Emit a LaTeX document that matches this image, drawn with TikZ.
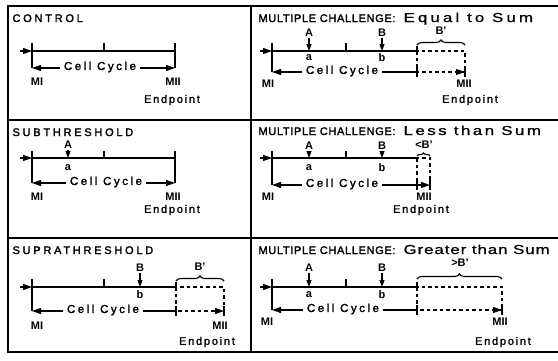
\documentclass[tikz,border=0pt]{standalone}
\usepackage{fontspec}
\setmainfont{Liberation Sans}
\newfontfamily\lttl{Liberation Sans}[LetterSpace=25,FakeBold=2]
\newfontfamily\capt{Liberation Sans}[LetterSpace=6,FakeBold=2]
\newfontfamily\lcA{Liberation Sans}[LetterSpace=24,FakeStretch=1.3,FakeBold=1]
\newfontfamily\lcB{Liberation Sans}[LetterSpace=19,FakeStretch=1.3,FakeBold=1]
\newfontfamily\lcC{Liberation Sans}[LetterSpace=7,FakeStretch=1.3,FakeBold=1]
\newfontfamily\ccf{Liberation Sans}[LetterSpace=22,FakeBold=2]
\newfontfamily\epf{Liberation Sans}[LetterSpace=16,FakeBold=2]
\usetikzlibrary{arrows.meta,decorations.pathreplacing}
\begin{document}
\begin{tikzpicture}[x=1pt,y=-1pt, line width=1.1pt,
  lt/.style={anchor=base west,inner sep=0pt,font=\lttl\fontsize{11}{13}\selectfont},
  rt/.style={anchor=base west,inner sep=0pt,font=\capt\fontsize{11}{13}\selectfont},
  lca/.style={anchor=base west,inner sep=0pt,font=\lcA\fontsize{13}{15}\selectfont},
  lcb/.style={anchor=base west,inner sep=0pt,font=\lcB\fontsize{13}{15}\selectfont},
  lcc/.style={anchor=base west,inner sep=0pt,font=\lcC\fontsize{13}{15}\selectfont},
  cc/.style={inner sep=3pt,font=\ccf\fontsize{11.5}{13}\selectfont},
  mlab/.style={inner sep=0pt,font=\bfseries\fontsize{11}{12}\selectfont},
  ep/.style={inner sep=0pt,font=\epf\fontsize{11}{12}\selectfont},
  ab/.style={inner sep=1pt,font=\bfseries\fontsize{11}{12}\selectfont},
  arw/.style={-{Triangle[length=9pt,width=6pt]}},
  sarw/.style={-{Triangle[length=7pt,width=5pt]}},
  dsh/.style={dash pattern=on 3.5pt off 3pt},
  brc/.style={decorate,decoration={brace,amplitude=5pt}},
]
\useasboundingbox (0,0) rectangle (558,360);
% frame
\draw (558,6) -- (8,6) -- (8,352) -- (558,352);
\draw (251,6) -- (251,352);
\draw (8,120) -- (558,120);
\draw (8,238) -- (558,238);

% ---------- Panel 1: CONTROL
\node[lt] (t1) at (12,22) {CONTROL};
\coordinate (p1in) at (20,51); \coordinate (p1s) at (32,51); \coordinate (p1e) at (175,51);
\draw[arw] (p1in) -- (p1s);
\draw (p1s) -- (p1e);
\draw (104,43) -- (104,51);
\draw (32,43) -- (32,68);
\draw (175,43) -- (175,68);
\node[cc] (p1cc) at (100,67) {Cell Cycle};
\coordinate (p1l) at (32,68); \coordinate (p1r) at (175,68);
\draw[arw] (p1cc.west |- p1l) -- (p1l);
\draw[arw] (p1cc.east |- p1r) -- (p1r);
\node[mlab] (p1mi) at (37,82) {MI};
\node[mlab] (p1mii) at (173,82) {MII};
\node[ep] (p1ep) at (172,100) {Endpoint};

% ---------- Panel 2: Equal to Sum
\node[rt] (t2) at (258,22) {MULTIPLE CHALLENGE:};
\node[lca] (t2b) at (403,22) {Equal to Sum};
\coordinate (p2in) at (260,51); \coordinate (p2s) at (272,51); \coordinate (p2e) at (417,51);
\draw[arw] (p2in) -- (p2s);
\draw (p2s) -- (p2e);
\draw (346,43) -- (346,51);
\draw (272,43) -- (272,72);
\draw (417,46) -- (417,51);
\node[ab] (p2A) at (309,33) {A};
\coordinate (p2At) at (309,51);
\draw[sarw] (p2A) -- (p2At);
\node[ab] (p2a) at (309,58) {a};
\node[ab] (p2B) at (382,33) {B};
\coordinate (p2Bt) at (382,51);
\draw[sarw] (p2B) -- (p2Bt);
\node[ab] (p2b) at (382,58) {b};
\draw[dsh] (417,51) rectangle (465,72);
\draw (417,67) -- (417,77);
\node[cc] (p2cc) at (342,71) {Cell Cycle};
\coordinate (p2l) at (272,72); \coordinate (p2m) at (417,72);
\coordinate (p2ea) at (455,72); \coordinate (p2r) at (465,72);
\draw[arw] (p2cc.west |- p2l) -- (p2l);
\draw (p2cc.east |- p2m) -- (p2m);
\draw[arw] (p2ea) -- (p2r);
\draw (465,67) -- (465,77);
\draw[brc] (417,45) -- (465,45);
\node[ab] (p2Bp) at (441,31) {B'};
\node[mlab] (p2mi) at (268,84) {MI};
\node[mlab] (p2mii) at (464,84) {MII};
\node[ep] (p2ep) at (470,100) {Endpoint};

% ---------- Panel 3: SUBTHRESHOLD
\node[lt] (t3) at (12,136) {SUBTHRESHOLD};
\coordinate (p3in) at (20,158); \coordinate (p3s) at (32,158); \coordinate (p3e) at (175,158);
\draw[arw] (p3in) -- (p3s);
\draw (p3s) -- (p3e);
\draw (104,151) -- (104,158);
\draw (32,151) -- (32,183);
\draw (175,151) -- (175,183);
\node[ab] (p3A) at (68,145) {A};
\coordinate (p3At) at (68,158);
\draw[sarw] (p3A) -- (p3At);
\node[ab] (p3a) at (68,168) {a};
\node[cc] (p3cc) at (106,182) {Cell Cycle};
\coordinate (p3l) at (32,183); \coordinate (p3r) at (175,183);
\draw[arw] (p3cc.west |- p3l) -- (p3l);
\draw[arw] (p3cc.east |- p3r) -- (p3r);
\node[mlab] (p3mi) at (37,197) {MI};
\node[mlab] (p3mii) at (173,197) {MII};
\node[ep] (p3ep) at (172,210) {Endpoint};

% ---------- Panel 4: Less than Sum
\node[rt] (t4) at (258,135) {MULTIPLE CHALLENGE:};
\node[lcb] (t4b) at (403,135) {Less than Sum};
\coordinate (p4in) at (260,158); \coordinate (p4s) at (272,158); \coordinate (p4e) at (417,158);
\draw[arw] (p4in) -- (p4s);
\draw (p4s) -- (p4e);
\draw (346,151) -- (346,158);
\draw (272,151) -- (272,185);
\node[ab] (p4A) at (309,146) {A};
\coordinate (p4At) at (309,158);
\draw[sarw] (p4A) -- (p4At);
\node[ab] (p4a) at (309,168) {a};
\node[ab] (p4B) at (382,146) {B};
\coordinate (p4Bt) at (382,158);
\draw[sarw] (p4B) -- (p4Bt);
\node[ab] (p4b) at (382,168) {b};
\draw[dsh] (417,158) rectangle (430,185);
\node[cc] (p4cc) at (342,184) {Cell Cycle};
\coordinate (p4l) at (272,185); \coordinate (p4m) at (417,185);
\coordinate (p4r) at (430,185);
\draw[arw] (p4cc.west |- p4l) -- (p4l);
\draw (p4cc.east |- p4m) -- (p4m);
\draw[arw] (p4m) -- (p4r);
\draw (417,180) -- (417,190);
\draw (430,180) -- (430,190);
\draw[decorate,decoration={brace,amplitude=3pt}] (417,156) -- (430,156);
\node[ab,inner sep=0pt] (p4Bp) at (424,145) {<B'};
\node[mlab] (p4mi) at (268,197) {MI};
\node[mlab] (p4mii) at (424,197) {MII};
\node[ep] (p4ep) at (421,210) {Endpoint};

% ---------- Panel 5: SUPRATHRESHOLD
\node[lt] (t5) at (12,254) {SUPRATHRESHOLD};
\coordinate (p5in) at (20,287); \coordinate (p5s) at (32,287); \coordinate (p5e) at (176,287);
\draw[arw] (p5in) -- (p5s);
\draw (p5s) -- (p5e);
\draw (104,279) -- (104,287);
\draw (32,279) -- (32,311);
\draw (176,282) -- (176,287);
\node[ab] (p5B) at (140,268) {B};
\coordinate (p5Bt) at (140,287);
\draw[sarw] (p5B) -- (p5Bt);
\node[ab] (p5b) at (140,295) {b};
\draw[dsh] (176,287) rectangle (224,311);
\draw (176,306) -- (176,316);
\node[cc] (p5cc) at (103,310) {Cell Cycle};
\coordinate (p5l) at (32,311); \coordinate (p5m) at (176,311);
\coordinate (p5ea) at (214,311); \coordinate (p5r) at (224,311);
\draw[arw] (p5cc.west |- p5l) -- (p5l);
\draw (p5cc.east |- p5m) -- (p5m);
\draw[arw] (p5ea) -- (p5r);
\draw (224,306) -- (224,316);
\draw[brc] (176,281) -- (224,281);
\node[ab] (p5Bp) at (200,267) {B'};
\node[mlab] (p5mi) at (37,326) {MI};
\node[mlab] (p5mii) at (220,326) {MII};
\node[ep] (p5ep) at (207,342) {Endpoint};

% ---------- Panel 6: Greater than Sum
\node[rt] (t6) at (258,254) {MULTIPLE CHALLENGE:};
\node[lcc] (t6b) at (403,254) {Greater than Sum};
\coordinate (p6in) at (260,287); \coordinate (p6s) at (272,287); \coordinate (p6e) at (417,287);
\draw[arw] (p6in) -- (p6s);
\draw (p6s) -- (p6e);
\draw (346,279) -- (346,287);
\draw (272,279) -- (272,310);
\draw (417,282) -- (417,287);
\node[ab] (p6A) at (309,268) {A};
\coordinate (p6At) at (309,287);
\draw[sarw] (p6A) -- (p6At);
\node[ab] (p6a) at (309,295) {a};
\node[ab] (p6B) at (382,268) {B};
\coordinate (p6Bt) at (382,287);
\draw[sarw] (p6B) -- (p6Bt);
\node[ab] (p6b) at (382,295) {b};
\draw[dsh] (417,287) rectangle (502,310);
\draw (417,305) -- (417,315);
\node[cc] (p6cc) at (343,309) {Cell Cycle};
\coordinate (p6l) at (272,310); \coordinate (p6m) at (417,310);
\coordinate (p6ea) at (492,310); \coordinate (p6r) at (502,310);
\draw[arw] (p6cc.west |- p6l) -- (p6l);
\draw (p6cc.east |- p6m) -- (p6m);
\draw[arw] (p6ea) -- (p6r);
\draw (502,305) -- (502,315);
\draw[brc] (417,279) -- (502,279);
\node[ab] (p6Bp) at (460,263) {>B'};
\node[mlab] (p6mi) at (267,322) {MI};
\node[mlab] (p6mii) at (500,322) {MII};
\node[ep] (p6ep) at (503,342) {Endpoint};
\end{tikzpicture}
\end{document}
